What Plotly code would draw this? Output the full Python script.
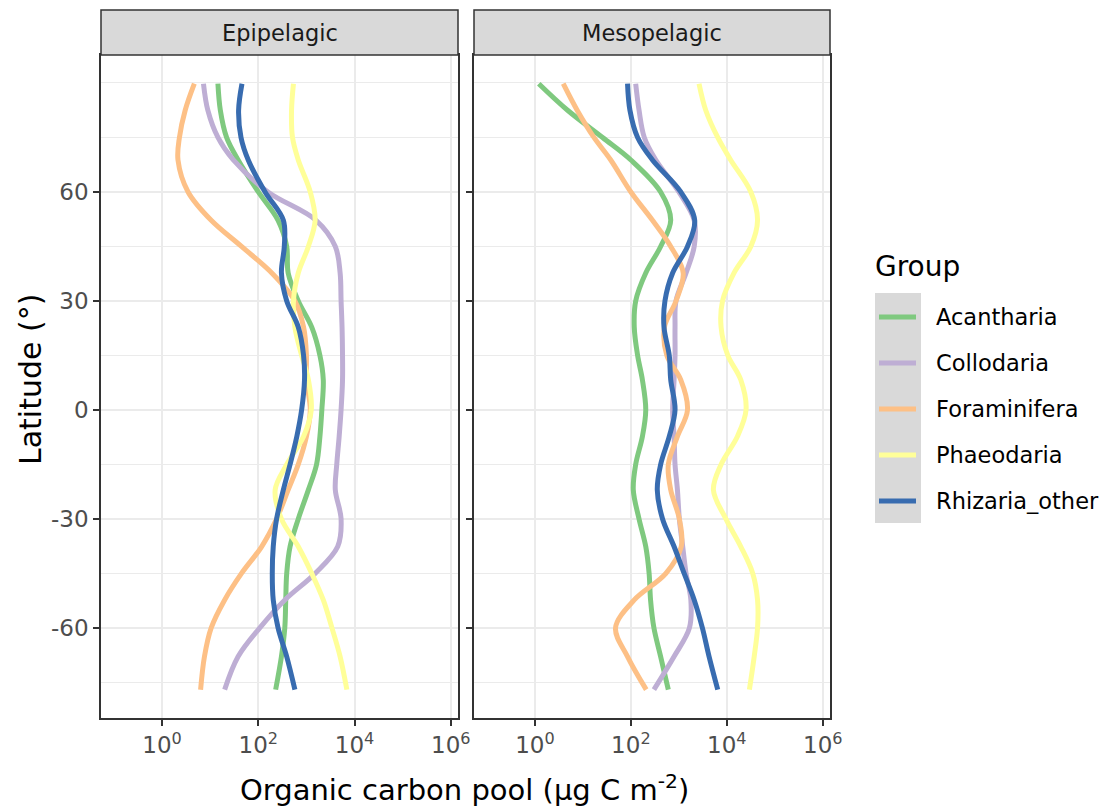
import plotly.graph_objects as go

# ---------------- data (log10 of organic carbon pool, µg C m-2) ----------------
latitude = [89.8, 82.5, 75, 68.8, 60, 52.2, 45, 37.7, 30, 22.8, 15, 8.3, 0,
            -7.3, -15, -22, -30, -37.6, -45, -52.3, -60, -67.9, -77]

groups = ["Acantharia", "Collodaria", "Foraminifera", "Phaeodaria", "Rhizaria_other"]
group_colors = ["#7FC97F", "#BEAED4", "#FDC086", "#FFFF99", "#386CB0"]
facets = ["Epipelagic", "Mesopelagic"]

epi_acantharia = [1.16, 1.21, 1.34, 1.58, 2.0, 2.41, 2.59, 2.62, 2.83, 3.11, 3.28, 3.35, 3.32,
                  3.28, 3.21, 3.04, 2.83, 2.66, 2.59, 2.57, 2.55, 2.48, 2.36]
epi_collodaria = [0.86, 0.95, 1.16, 1.48, 2.2, 3.2, 3.6, 3.7, 3.72, 3.74, 3.75, 3.75, 3.72,
                  3.68, 3.63, 3.6, 3.72, 3.65, 3.18, 2.55, 2.03, 1.58, 1.30]
epi_foraminifera = [0.67, 0.48, 0.36, 0.33, 0.54, 1.02, 1.65, 2.28, 2.76, 2.94, 3.0, 3.0, 3.08,
                    3.0, 2.83, 2.62, 2.38, 2.07, 1.65, 1.30, 1.02, 0.88, 0.80]
epi_phaeodaria = [2.73, 2.69, 2.71, 2.83, 3.08, 3.18, 3.04, 2.83, 2.73, 2.76, 2.9, 3.04, 3.1,
                  2.94, 2.59, 2.35, 2.48, 2.83, 3.11, 3.35, 3.53, 3.7, 3.84]
epi_rhizaria_other = [1.66, 1.59, 1.64, 1.79, 2.14, 2.52, 2.54, 2.48, 2.59, 2.83, 2.94, 2.96, 2.9,
                      2.8, 2.66, 2.52, 2.38, 2.31, 2.29, 2.31, 2.41, 2.59, 2.76]

meso_acantharia = [0.08, 0.68, 1.41, 2.0, 2.62, 2.83, 2.62, 2.31, 2.1, 2.07, 2.14, 2.24, 2.31,
                   2.24, 2.1, 2.05, 2.17, 2.31, 2.38, 2.41, 2.48, 2.62, 2.78]
meso_collodaria = [2.1, 2.17, 2.28, 2.52, 3.0, 3.32, 3.32, 3.15, 2.94, 2.92, 2.92, 2.9, 2.87,
                   2.9, 2.92, 2.97, 3.01, 3.08, 3.15, 3.25, 3.22, 2.9, 2.48]
meso_foraminifera = [0.59, 0.88, 1.23, 1.58, 2.0, 2.45, 2.83, 3.09, 2.94, 2.7, 2.75, 3.04, 3.18,
                     2.97, 2.78, 2.83, 3.01, 3.05, 2.73, 2.07, 1.68, 1.93, 2.32]
meso_phaeodaria = [3.42, 3.56, 3.81, 4.08, 4.5, 4.64, 4.5, 4.15, 3.91, 3.88, 4.02, 4.29, 4.4,
                   4.22, 3.88, 3.72, 3.98, 4.29, 4.54, 4.64, 4.64, 4.57, 4.47]
meso_rhizaria_other = [1.93, 1.98, 2.14, 2.45, 3.04, 3.33, 3.18, 2.87, 2.71, 2.69, 2.8, 2.83, 2.92,
                       2.8, 2.62, 2.55, 2.66, 2.9, 3.11, 3.32, 3.49, 3.63, 3.81]

epi_series = [epi_acantharia, epi_collodaria, epi_foraminifera, epi_phaeodaria, epi_rhizaria_other]
meso_series = [meso_acantharia, meso_collodaria, meso_foraminifera, meso_phaeodaria, meso_rhizaria_other]

x_tick_values = [1, 100, 1e4, 1e6]
x_tick_labels = ["10<sup>0</sup>", "10<sup>2</sup>", "10<sup>4</sup>", "10<sup>6</sup>"]
y_tick_values = [-60, -30, 0, 30, 60]
y_tick_labels = ["-60", "-30", "0", "30", "60"]
y_minor_values = [-75, -45, -15, 15, 45, 75, 90]

# ---------------- geometry helpers (page pixels -> paper) ----------------
OFF = 8                       # default page body margin
PAGE_W, PAGE_H = 1112, 810
W, H = PAGE_W - OFF, PAGE_H - OFF
PANEL_L, PANEL_R, PANEL_T, PANEL_B = 101, 830, 55, 718
ML = PANEL_L - OFF
MR = PAGE_W - PANEL_R
MT = 10 - OFF
MB = PAGE_H - PANEL_B
PW = W - ML - MR
PH = H - MT - MB


def px(x):
    return (x - OFF - ML) / PW


def py(y):
    return (H - MB - (y - OFF)) / PH


fig = go.Figure()

for fi, series in enumerate([epi_series, meso_series]):
    xa = "x" if fi == 0 else "x2"
    ya = "y" if fi == 0 else "y2"
    for g, col, vals in zip(groups, group_colors, series):
        fig.add_trace(go.Scatter(
            x=[10 ** v for v in vals], y=latitude, mode="lines",
            line=dict(color=col, width=5, shape="spline", smoothing=1.0),
            name=g, legendgroup=g, showlegend=False, xaxis=xa, yaxis=ya,
            hoverinfo="skip"))

grid_col = "#EBEBEB"
axis_common = dict(
    type="log", range=[-1.27, 6.15],
    tickvals=x_tick_values, ticktext=x_tick_labels,
    tickfont=dict(size=23, color="#4D4D4D"),
    ticks="outside", ticklen=6, tickwidth=1.6, tickcolor="#333333",
    showgrid=True, gridcolor=grid_col, gridwidth=2,
    showline=True, mirror=True, linecolor="#333333", linewidth=1.5,
    zeroline=False,
)
yaxis_common = dict(
    range=[-84.8, 97.7],
    tickvals=y_tick_values, ticktext=y_tick_labels,
    ticks="outside", ticklen=6, tickwidth=1.6, tickcolor="#333333",
    showgrid=True, gridcolor=grid_col, gridwidth=2,
    minor=dict(tickvals=y_minor_values, showgrid=True, gridcolor=grid_col, gridwidth=1.1, ticks=""),
    showline=True, mirror=True, linecolor="#333333", linewidth=1.5,
    zeroline=False, domain=[0, py(PANEL_T)],
)

left_dom = [0, px(458)]
right_dom = [px(474), 1]

fig.update_layout(
    width=W, height=H,
    margin=dict(l=ML, r=MR, t=MT, b=MB),
    paper_bgcolor="white", plot_bgcolor="white",
    font=dict(family="DejaVu Sans", color="#000000"),
    showlegend=False,
    xaxis=dict(domain=left_dom, anchor="y", **axis_common),
    xaxis2=dict(domain=right_dom, anchor="y2", **axis_common),
    yaxis=dict(anchor="x", tickfont=dict(size=23, color="#4D4D4D"), **yaxis_common),
    yaxis2=dict(anchor="x2", matches="y", showticklabels=False, **yaxis_common),
)

shapes = []
annotations = []
# facet strips
for dom, label in zip([left_dom, right_dom], facets):
    shapes.append(dict(type="rect", xref="paper", yref="paper",
                       x0=dom[0], x1=dom[1], y0=py(PANEL_T), y1=py(10),
                       fillcolor="#D9D9D9", line=dict(color="#333333", width=1.5), layer="above"))
    annotations.append(dict(text=label, xref="paper", yref="paper",
                            x=(dom[0] + dom[1]) / 2, y=py(33), xanchor="center", yanchor="middle",
                            showarrow=False, font=dict(size=22.5, color="#1A1A1A")))

# axis titles
annotations.append(dict(text="Organic carbon pool (µg C m<sup>-2</sup>)", xref="paper", yref="paper",
                        x=px(464), y=py(788), xanchor="center", yanchor="middle",
                        showarrow=False, font=dict(size=29, color="#000000")))
annotations.append(dict(text="Latitude (°)", xref="paper", yref="paper",
                        x=px(30), y=py(380), xanchor="center", yanchor="middle", textangle=-90,
                        showarrow=False, font=dict(size=30, color="#000000")))

# legend
annotations.append(dict(text="Group", xref="paper", yref="paper",
                        x=px(873), y=py(267), xanchor="left", yanchor="middle",
                        showarrow=False, font=dict(size=28, color="#000000")))
shapes.append(dict(type="rect", xref="paper", yref="paper",
                   x0=px(875), x1=px(921), y0=py(523), y1=py(293),
                   fillcolor="#D9D9D9", line=dict(width=0), layer="above"))
key_y = [317, 363, 409, 455, 501]
for g, col, ky in zip(groups, group_colors, key_y):
    shapes.append(dict(type="line", xref="paper", yref="paper",
                       x0=px(879), x1=px(916), y0=py(ky), y1=py(ky),
                       line=dict(color=col, width=5), layer="above"))
    annotations.append(dict(text=g, xref="paper", yref="paper",
                            x=px(934), y=py(ky), xanchor="left", yanchor="middle",
                            showarrow=False, font=dict(size=22.5, color="#000000")))

fig.update_layout(shapes=shapes, annotations=annotations)
fig.write_html("out.html")
